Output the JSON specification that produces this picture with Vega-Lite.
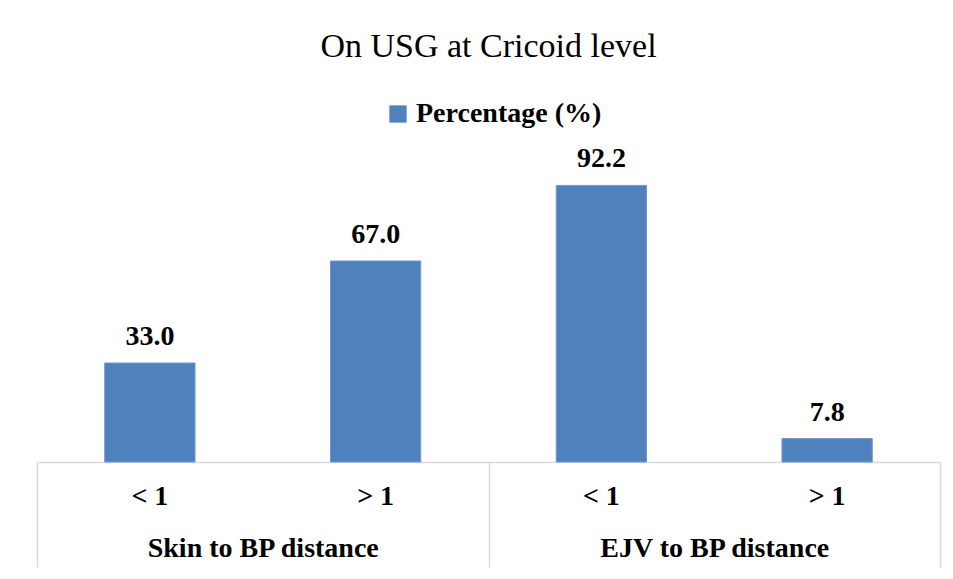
{
  "$schema": "https://vega.github.io/schema/vega-lite/v6.json",
  "autosize": "none",
  "width": 903,
  "height": 300,
  "padding": {"left": 37, "top": 162, "right": 13, "bottom": 117},
  "background": "white",
  "title": {
    "text": "On USG at Cricoid level",
    "font": "Liberation Serif",
    "fontSize": 34,
    "fontWeight": "normal",
    "color": "black",
    "anchor": "middle",
    "frame": "group",
    "baseline": "alphabetic",
    "offset": 9
  },
  "data": {
    "values": [
      {"key": "Skin to BP distance|< 1", "group": "Skin to BP distance", "value": 33.0, "series": "Percentage (%)"},
      {"key": "Skin to BP distance|> 1", "group": "Skin to BP distance", "value": 67.0, "series": "Percentage (%)"},
      {"key": "EJV to BP distance|< 1", "group": "EJV to BP distance", "value": 92.2, "series": "Percentage (%)"},
      {"key": "EJV to BP distance|> 1", "group": "EJV to BP distance", "value": 7.8, "series": "Percentage (%)"}
    ]
  },
  "layer": [
    {
      "encoding": {
        "x": {
          "field": "key", "type": "nominal", "sort": null,
          "scale": {"paddingInner": 0.6, "paddingOuter": 0.3},
          "axis": {
            "title": null, "orient": "bottom",
            "labelExpr": "split(datum.value, '|')[1]",
            "labelAngle": 0, "ticks": false, "domainColor": "#d9d9d9", "domainWidth": 1.5,
            "labelFont": "Liberation Serif", "labelFontSize": 28, "labelFontWeight": "bold",
            "labelColor": "black", "labelPadding": 20
          }
        },
        "y": {
          "field": "value", "type": "quantitative",
          "scale": {"domain": [0, 100], "nice": false},
          "axis": null
        }
      },
      "layer": [
        {
          "mark": {"type": "bar", "stroke": "#6f98cc", "strokeWidth": 1},
          "encoding": {
            "color": {
              "field": "series", "type": "nominal",
              "scale": {"range": ["#4f81bd"]},
              "legend": {
                "title": null, "orient": "none", "legendX": 347, "legendY": -62,
                "symbolType": "square", "symbolSize": 300, "symbolStrokeWidth": 0,
                "labelFont": "Liberation Serif", "labelFontSize": 28, "labelFontWeight": "bold",
                "labelColor": "black", "labelOffset": 4, "labelLimit": 600
              }
            }
          }
        },
        {
          "mark": {"type": "text", "font": "Liberation Serif", "fontSize": 28, "fontWeight": "bold", "color": "black", "baseline": "bottom", "dy": -12},
          "encoding": {
            "text": {"field": "value", "type": "quantitative", "format": ".1f"}
          }
        }
      ]
    },
    {
      "mark": {"type": "text", "opacity": 0},
      "encoding": {
        "x": {
          "field": "group", "type": "nominal", "sort": null,
          "scale": {"paddingInner": 0, "paddingOuter": 0},
          "axis": {
            "title": null, "orient": "bottom", "domain": false,
            "tickBand": "extent", "tickSize": 105, "tickColor": "#d9d9d9", "tickWidth": 1.5,
            "labelAngle": 0, "labelLimit": 600,
            "labelFont": "Liberation Serif", "labelFontSize": 28, "labelFontWeight": "bold",
            "labelColor": "black", "labelPadding": -33
          }
        },
        "text": {"field": "group", "type": "nominal"}
      }
    }
  ],
  "resolve": {"scale": {"x": "independent"}, "axis": {"x": "independent"}},
  "config": {"view": {"stroke": null}}
}
